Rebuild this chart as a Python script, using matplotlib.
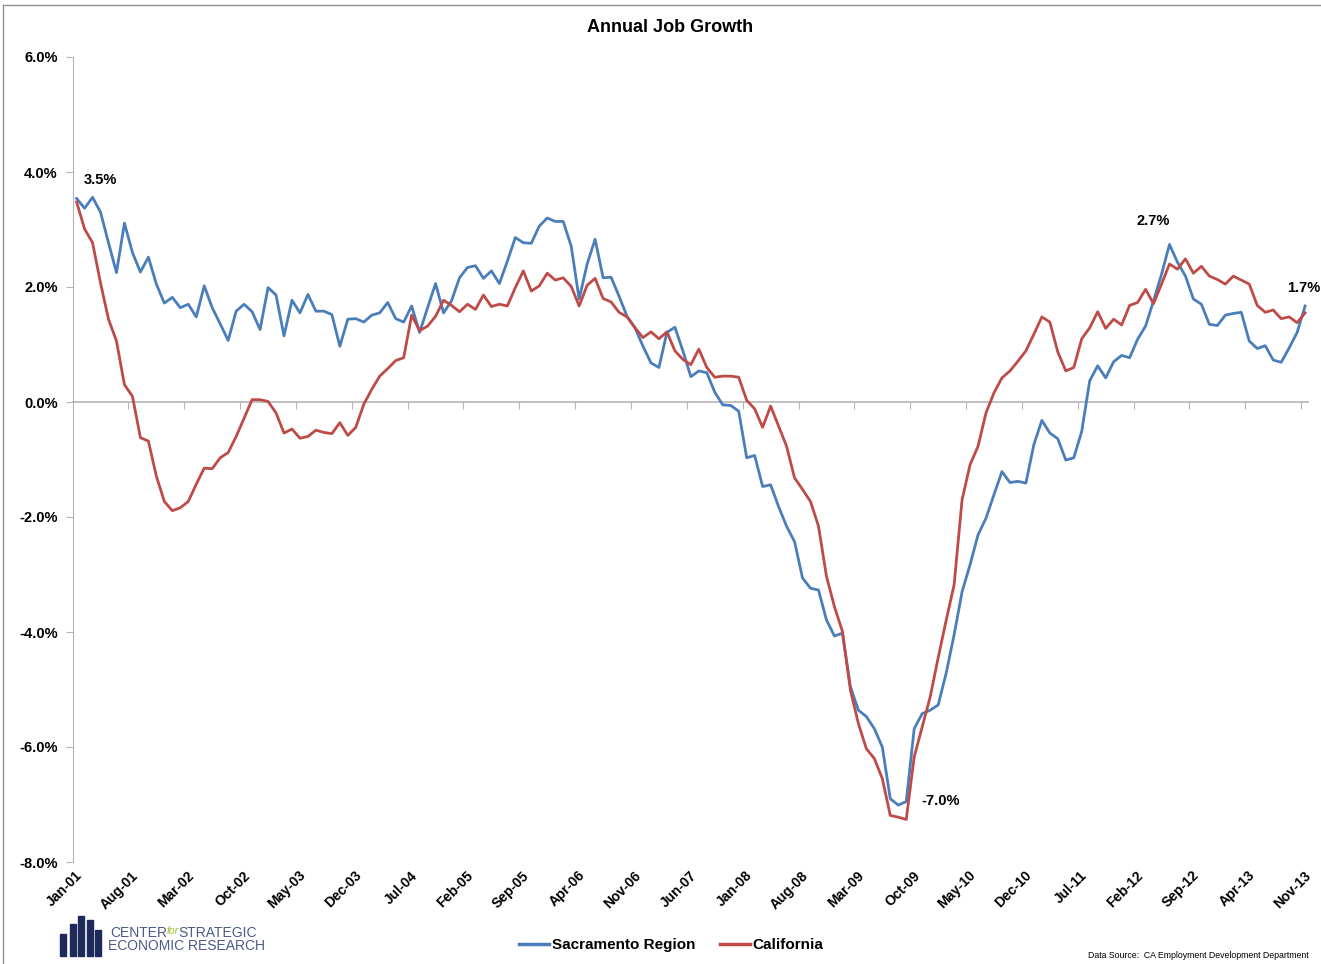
import matplotlib
matplotlib.use("Agg")
import matplotlib.pyplot as plt
from matplotlib.lines import Line2D
from matplotlib.patches import Rectangle
from matplotlib.transforms import blended_transform_factory
import numpy as np

# monthly annual job growth (%), Jan-01 .. Nov-13
sacramento = [
    3.54, 3.37, 3.56, 3.30, 2.77, 2.25, 3.11, 2.60, 2.26, 2.52, 2.05, 1.72,
    1.82, 1.64, 1.70, 1.48, 2.02, 1.64, 1.36, 1.07, 1.58, 1.70, 1.57, 1.26,
    1.99, 1.86, 1.15, 1.77, 1.55, 1.87, 1.58, 1.58, 1.52, 0.97, 1.44, 1.45,
    1.39, 1.51, 1.55, 1.73, 1.45, 1.39, 1.67, 1.21, 1.64, 2.06, 1.55, 1.76,
    2.16, 2.34, 2.37, 2.15, 2.28, 2.06, 2.45, 2.86, 2.77, 2.76, 3.06, 3.20,
    3.14, 3.14, 2.71, 1.79, 2.40, 2.83, 2.16, 2.17, 1.84, 1.49, 1.29, 0.97,
    0.68, 0.60, 1.21, 1.30, 0.89, 0.44, 0.54, 0.51, 0.17, -0.05, -0.06, -0.16,
    -0.97, -0.93, -1.47, -1.44, -1.82, -2.16, -2.43, -3.06, -3.24, -3.27, -3.79, -4.07,
    -4.02, -4.95, -5.36, -5.47, -5.68, -6.00, -6.90, -7.01, -6.95, -5.68, -5.42, -5.36,
    -5.27, -4.72, -4.05, -3.30, -2.83, -2.31, -2.02, -1.61, -1.21, -1.40, -1.38, -1.41,
    -0.74, -0.32, -0.54, -0.64, -1.01, -0.97, -0.51, 0.37, 0.63, 0.42, 0.70, 0.81,
    0.77, 1.09, 1.32, 1.76, 2.22, 2.74, 2.43, 2.19, 1.79, 1.70, 1.35, 1.33,
    1.51, 1.54, 1.56, 1.06, 0.93, 0.98, 0.73, 0.69, 0.94, 1.21, 1.67,
]
california = [
    3.48, 3.01, 2.77, 2.07, 1.44, 1.06, 0.30, 0.10, -0.62, -0.68, -1.29, -1.73,
    -1.89, -1.84, -1.73, -1.43, -1.15, -1.16, -0.97, -0.88, -0.60, -0.28, 0.04, 0.04,
    0.01, -0.19, -0.54, -0.47, -0.63, -0.60, -0.49, -0.53, -0.55, -0.36, -0.58, -0.44,
    -0.04, 0.22, 0.45, 0.58, 0.72, 0.77, 1.51, 1.24, 1.32, 1.49, 1.77, 1.68,
    1.57, 1.70, 1.61, 1.86, 1.66, 1.70, 1.67, 1.99, 2.28, 1.93, 2.02, 2.24,
    2.12, 2.16, 2.01, 1.67, 2.03, 2.15, 1.80, 1.74, 1.56, 1.48, 1.29, 1.12,
    1.22, 1.10, 1.22, 0.89, 0.74, 0.65, 0.92, 0.60, 0.43, 0.45, 0.45, 0.43,
    0.03, -0.12, -0.44, -0.07, -0.42, -0.77, -1.32, -1.52, -1.73, -2.16, -3.03, -3.56,
    -3.99, -5.01, -5.59, -6.03, -6.20, -6.55, -7.19, -7.22, -7.26, -6.17, -5.65, -5.13,
    -4.45, -3.80, -3.18, -1.70, -1.09, -0.77, -0.19, 0.16, 0.42, 0.54, 0.71, 0.89,
    1.18, 1.48, 1.39, 0.87, 0.54, 0.60, 1.10, 1.29, 1.57, 1.28, 1.44, 1.34,
    1.68, 1.73, 1.96, 1.71, 2.05, 2.40, 2.31, 2.49, 2.24, 2.36, 2.19, 2.13,
    2.05, 2.19, 2.12, 2.05, 1.68, 1.56, 1.60, 1.45, 1.48, 1.38, 1.55,
]
tick_labels = ["Jan-01", "Aug-01", "Mar-02", "Oct-02", "May-03", "Dec-03", "Jul-04",
               "Feb-05", "Sep-05", "Apr-06", "Nov-06", "Jun-07", "Jan-08", "Aug-08",
               "Mar-09", "Oct-09", "May-10", "Dec-10", "Jul-11", "Feb-12", "Sep-12",
               "Apr-13", "Nov-13"]
y_ticks = [6, 4, 2, 0, -2, -4, -6, -8]

blue = "#4a7ebb"
red = "#be4b48"
gray = "#b4b4b4"
plt.rcParams["font.family"] = ["Liberation Sans", "DejaVu Sans"]

W, H = 1321, 964
fig = plt.figure(figsize=(W / 100, H / 100), dpi=100)
ax = fig.add_axes([73 / W, 102 / H, 1234.5 / W, 805 / H])

x = np.arange(len(sacramento))
ax.plot(x, sacramento, color=blue, lw=2.0, zorder=3)
ax.plot(x, california, color=red, lw=2.0, zorder=3)

# y axis
ax.set_yticks(y_ticks)
ax.set_yticklabels([f"{v:.1f}%" for v in y_ticks], fontsize=10.5, fontweight="bold")
ax.tick_params(axis="y", direction="out", length=5, color=gray, pad=6)
for s in ["top", "right"]:
    ax.spines[s].set_visible(False)
ax.spines["left"].set_color(gray)

# category axis crossing at zero
ax.spines["bottom"].set_position(("data", 0))
ax.spines["bottom"].set_color(gray)
ax.spines["bottom"].set_linewidth(1.2)
label_pos = np.arange(0, len(sacramento), 7)
tick_pos = label_pos + 6.5
ax.set_xticks(tick_pos[tick_pos < len(sacramento)])
ax.set_xticklabels([])
ax.tick_params(axis="x", direction="out", length=5, color=gray)

ax.set_xlim(-0.45, 154.3)
ax.set_ylim(-8, 6)

trans = blended_transform_factory(ax.transData, ax.transAxes)
for p, lab in zip(label_pos, tick_labels):
    ax.text(p - 0.2, -0.008, lab, transform=trans, rotation=45, ha="right", va="top",
            rotation_mode="anchor", fontsize=10, fontweight="bold")

fig.text(670 / W, 1 - 28 / H, "Annual Job Growth", ha="center", va="center",
         fontsize=13, fontweight="bold")

# point labels
ann = dict(fontsize=10.5, fontweight="bold", textcoords="offset points")
ax.annotate("3.5%", xy=(0, sacramento[0]), xytext=(17, 13), ha="center", va="center", **ann)
ax.annotate("2.7%", xy=(137, sacramento[137]), xytext=(-12, 17), ha="center", va="center", **ann)
ax.annotate("1.7%", xy=(154, sacramento[154]), xytext=(-13, 13), ha="left", va="center", **ann)
ax.annotate("-7.0%", xy=(103, sacramento[103]), xytext=(17, 3), ha="left", va="center", **ann)

# legend
handles = [Line2D([], [], color=blue, lw=2.5), Line2D([], [], color=red, lw=2.5)]
fig.legend(handles, ["Sacramento Region", "California"], loc="center",
           bbox_to_anchor=(671 / W, 1 - 945 / H), ncol=2, frameon=False,
           prop={"size": 11, "weight": "bold"}, handlelength=2.0,
           handletextpad=0.15, columnspacing=1.6)

fig.text(1309 / W, 1 - 955 / H, "Data Source:  CA Employment Development Department",
         ha="right", va="center", fontsize=6.3)

# logo
logo = "#4b5b86"
for bx, bh in [(60, 22), (70, 32), (78, 40), (87, 36), (95, 26)]:
    fig.patches.append(Rectangle((bx / W, (964 - 956) / H), 6 / W, bh / H,
                                 transform=fig.transFigure, color="#1f2a5c"))
fig.text(110 / W, 1 - 933 / H, "CENTER", color=logo, fontsize=10, va="center")
fig.text(167 / W, 1 - 931 / H, "for", color="#9bbf2a", fontsize=7.5, style="italic", va="center")
fig.text(178 / W, 1 - 933 / H, "STRATEGIC", color=logo, fontsize=10, va="center")
fig.text(108 / W, 1 - 946 / H, "ECONOMIC RESEARCH", color=logo, fontsize=10, va="center")

# chart frame
fig.add_artist(Line2D([3 / W, 3 / W], [0, 1 - 5 / H], color="#909090", lw=1))
fig.add_artist(Line2D([3 / W, 1], [1 - 5 / H, 1 - 5 / H], color="#909090", lw=1))

fig.savefig("out.png", dpi=100)
